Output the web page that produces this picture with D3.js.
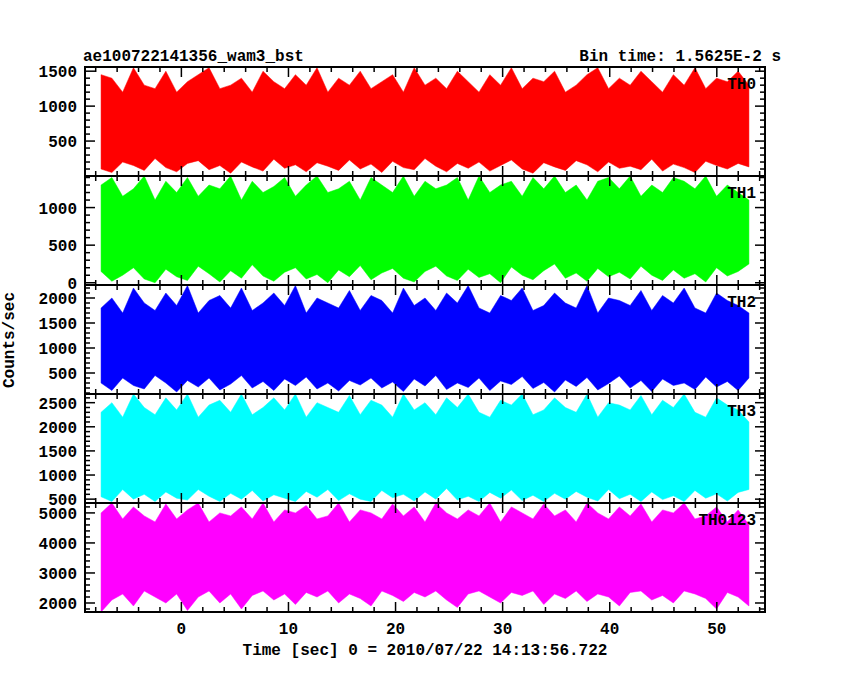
<!DOCTYPE html>
<html><head><meta charset="utf-8">
<script src="https://cdn.jsdelivr.net/npm/d3@7"></script>
<style>body{margin:0;background:#fff}text{font-family:"Liberation Mono",monospace;font-weight:bold}</style>
</head><body><svg id="chart" width="850" height="680"></svg>
<script>
// Panel names and colours
const names = ["TH0", "TH1", "TH2", "TH3", "TH0123"];
const colors = ["#ff0000", "#00ff00", "#0000ff", "#00ffff", "#ff00ff"];
const yDomains = [[0, 1560], [-30, 1420], [80, 2260], [420, 2680], [1700, 5330]];
const yTicks = [[500, 1000, 1500], [0, 500, 1000], [500, 1000, 1500, 2000], [500, 1000, 1500, 2000, 2500], [2000, 3000, 4000, 5000]];
const yMinor = [100, 100, 100, 100, 200];

// Envelope of the light curve, one value per 1 s, from t = -7.5 s
const hi0 = [1450,1400,1200,1550,1300,1250,1500,1200,1350,1450,1550,1250,1300,1400,1200,1500,1350,1250,1450,1300,1550,1200,1400,1300,1500,1250,1350,1450,1200,1550,1300,1400,1250,1500,1350,1200,1450,1300,1550,1250,1400,1350,1500,1200,1300,1450,1550,1250,1400,1300,1500,1350,1200,1450,1300,1550,1250,1400,1350,1500,1300];
const lo0 = [100,50,200,150,80,250,120,60,180,220,90,150,40,200,130,70,240,110,160,60,190,140,80,230,100,170,50,210,120,90,250,140,60,180,110,200,70,150,230,100,40,190,130,80,220,160,60,200,110,140,90,240,70,170,120,50,210,150,100,180,130];
const hi1 = [1300,1400,1150,1250,1420,1100,1350,1200,1400,1150,1300,1250,1420,1100,1350,1200,1280,1400,1150,1300,1420,1200,1250,1350,1100,1400,1300,1200,1420,1150,1350,1250,1300,1400,1100,1420,1200,1300,1350,1150,1400,1250,1420,1200,1300,1100,1350,1400,1250,1420,1150,1300,1200,1400,1350,1250,1420,1150,1300,1200,1100];
const lo1 = [150,20,100,200,50,0,180,80,30,220,120,10,160,60,240,90,20,140,200,50,110,0,170,80,230,40,130,190,60,10,150,220,90,30,180,70,120,0,210,100,40,160,250,60,130,20,190,80,140,50,220,100,30,170,60,120,10,200,90,150,250];
const hi2 = [1800,2000,1700,2200,1900,1750,2100,1850,2250,1700,1950,2050,1800,2200,1750,1900,2100,1850,2250,1700,2000,1900,1800,2150,1750,2050,1950,1700,2200,1850,2000,1750,2100,1900,2250,1800,1700,2050,1950,2200,1750,1850,2100,1900,1800,2250,1700,2000,1950,1850,2150,1750,2050,1900,2200,1800,1700,2100,1950,1850,1700];
const lo2 = [300,150,400,250,180,450,300,120,350,220,400,160,280,450,200,330,150,380,250,420,180,300,140,350,260,400,200,320,130,380,240,450,170,300,210,400,150,340,270,430,190,310,120,360,230,410,160,290,440,200,350,130,380,250,300,170,420,220,330,150,400];
const hi3 = [2300,2500,2200,2680,2400,2250,2600,2350,2680,2200,2450,2550,2300,2680,2250,2400,2600,2350,2680,2200,2500,2400,2300,2650,2250,2550,2450,2200,2680,2350,2500,2250,2600,2400,2680,2300,2200,2550,2450,2680,2250,2350,2600,2400,2300,2680,2200,2500,2450,2350,2650,2250,2550,2400,2680,2300,2200,2600,2450,2350,2100];
const lo3 = [550,450,700,500,600,450,650,520,480,700,560,450,620,500,680,460,590,520,450,660,540,700,470,610,500,450,680,530,600,460,650,500,720,480,560,450,640,520,690,470,580,450,620,500,660,540,460,700,510,600,450,650,490,570,450,680,520,610,460,640,700];
const hi4 = [5000,5330,4800,5200,4900,4700,5300,4800,5100,5330,4700,5000,4900,5200,4800,5330,4700,5100,5000,5250,4800,4900,5330,4700,5100,5000,4800,5300,4900,5200,4700,5330,5000,4800,5100,4900,5330,4700,5200,5000,4800,5300,4900,5100,4700,5330,5000,4800,5200,4900,5300,4700,5100,5000,5330,4800,4900,5200,4700,5100,4600];
const lo4 = [1700,2100,2300,1900,2400,2200,2000,2300,1750,2200,2400,2000,2300,1800,2250,2400,2100,2300,1950,2350,2200,2400,2000,2300,2150,1900,2400,2250,2050,2350,2200,2400,2100,1850,2300,2400,2200,2000,2350,2250,2400,1950,2300,2150,2400,2050,2300,2200,1900,2350,2400,2100,2250,2000,2400,2300,2150,1800,2350,2200,1900];
const highs = [hi0, hi1, hi2, hi3, hi4];
const lows = [lo0, lo1, lo2, lo3, lo4];

const tStart = -7.5, tEnd = 53;
const xTicks = [0, 10, 20, 30, 40, 50];

const Left = 85, Right = 765, Top = 67, PanelH = 109;
const svg = d3.select("#chart");
const x = d3.scaleLinear().domain([-9, 54.5]).range([Left, Right]);

names.forEach((name, p) => {
  const y0 = Top + p * PanelH;
  const y = d3.scaleLinear().domain(yDomains[p]).range([y0 + PanelH, y0]);
  const hi = highs[p], lo = lows[p];
  const n = hi.length;
  const step = (tEnd - tStart) / (n - 1);
  const pts = hi.map((h, i) => ({t: tStart + i * step, h, l: lo[i]}));
  const g = svg.append("g");
  g.append("path").datum(pts)
    .attr("fill", colors[p]).attr("stroke", colors[p]).attr("stroke-width", 0.5)
    .attr("d", d3.area().x(d => x(d.t)).y0(d => y(d.l)).y1(d => y(d.h)));
  // frame
  g.append("rect").attr("x", Left).attr("y", y0).attr("width", Right - Left).attr("height", PanelH)
    .attr("fill", "none").attr("stroke", "#000").attr("stroke-width", 2);
  // y ticks both sides
  const minor = d3.range(Math.ceil(yDomains[p][0] / yMinor[p]) * yMinor[p], yDomains[p][1], yMinor[p]);
  minor.forEach(v => {
    const major = v % 500 === 0 || (p === 4 && v % 1000 === 0);
    const len = major ? 10 : 5;
    g.append("line").attr("x1", Left).attr("x2", Left + len).attr("y1", y(v)).attr("y2", y(v)).attr("stroke", "#000").attr("stroke-width", 1.5);
    g.append("line").attr("x1", Right).attr("x2", Right - len).attr("y1", y(v)).attr("y2", y(v)).attr("stroke", "#000").attr("stroke-width", 1.5);
  });
  yTicks[p].forEach(v => {
    g.append("text").attr("x", Left - 8).attr("y", y(v) + 6).attr("text-anchor", "end").attr("font-size", 16).text(v);
  });
  // x ticks top and bottom
  d3.range(-8, 55, 2).forEach(t => {
    const len = t % 10 === 0 ? 10 : 5;
    g.append("line").attr("x1", x(t)).attr("x2", x(t)).attr("y1", y0).attr("y2", y0 + len).attr("stroke", "#000").attr("stroke-width", 1.5);
    g.append("line").attr("x1", x(t)).attr("x2", x(t)).attr("y1", y0 + PanelH).attr("y2", y0 + PanelH - len).attr("stroke", "#000").attr("stroke-width", 1.5);
  });
  g.append("text").attr("x", 756).attr("y", y0 + 22).attr("text-anchor", "end").attr("font-size", 16).text(name);
});

const bottom = Top + 5 * PanelH;
xTicks.forEach(t => {
  svg.append("text").attr("x", x(t)).attr("y", bottom + 22).attr("text-anchor", "middle").attr("font-size", 16).text(t);
});
svg.append("text").attr("x", 83).attr("y", 61).attr("font-size", 16).text("ae100722141356_wam3_bst");
svg.append("text").attr("x", 781).attr("y", 61).attr("text-anchor", "end").attr("font-size", 16).text("Bin time: 1.5625E-2 s");
svg.append("text").attr("x", 425).attr("y", 655).attr("text-anchor", "middle").attr("font-size", 16).text("Time [sec] 0 = 2010/07/22 14:13:56.722");
svg.append("text").attr("transform", "translate(14,340) rotate(-90)").attr("text-anchor", "middle").attr("font-size", 16).text("Counts/sec");
</script></body></html>
